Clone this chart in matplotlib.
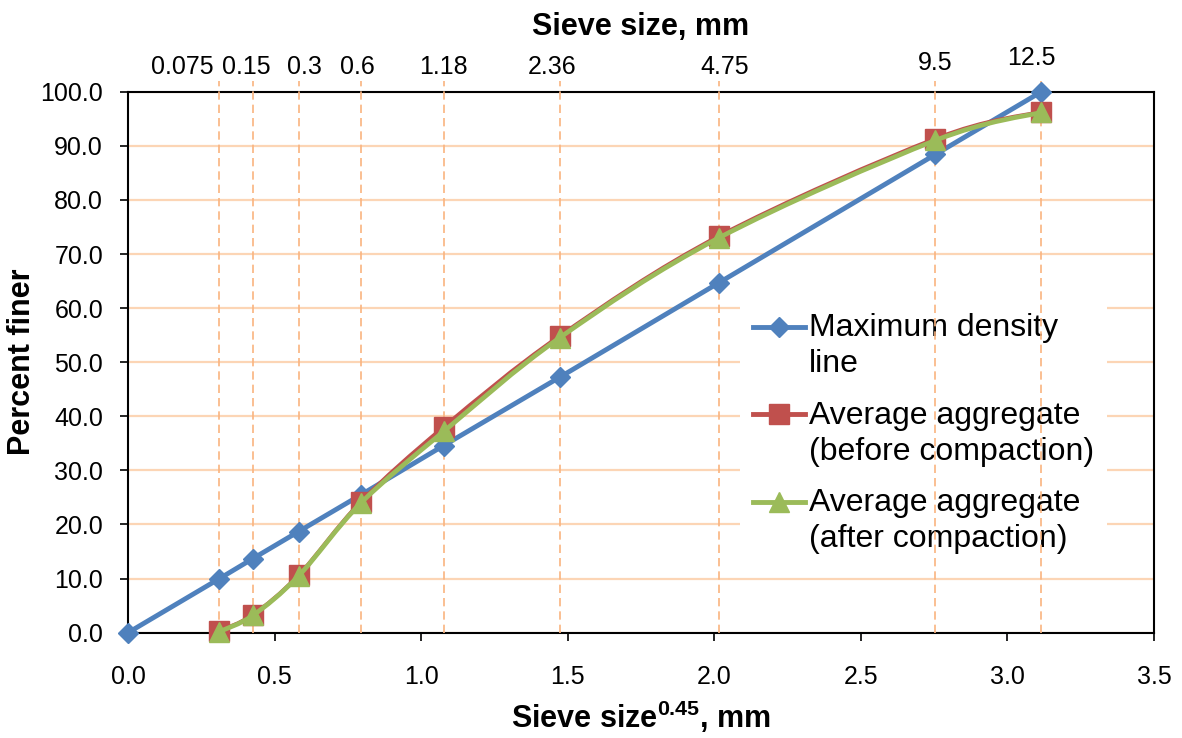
import matplotlib.pyplot as plt
import numpy as np
from matplotlib.legend_handler import HandlerLine2D
from matplotlib.lines import Line2D
from matplotlib.patches import PathPatch
from matplotlib.path import Path

plt.rcParams["font.family"] = ["Liberation Sans", "DejaVu Sans"]
plt.rcParams["mathtext.fontset"] = "custom"
plt.rcParams["mathtext.rm"] = "Liberation Sans"
plt.rcParams["mathtext.bf"] = "Liberation Sans:bold"

# sieve sizes (mm) and their positions on the sieve size^0.45 axis
sieve_labels = ["0.075", "0.15", "0.3", "0.6", "1.18", "2.36", "4.75", "9.5", "12.5"]
sieve_x = [0.312, 0.426, 0.582, 0.795, 1.077, 1.472, 2.016, 2.754, 3.116]

max_density_x = [0.0] + sieve_x
max_density = [0.0, 10.0, 13.7, 18.7, 25.5, 34.6, 47.2, 64.7, 88.4, 100.0]
before_compaction = [0.3, 3.3, 10.6, 24.2, 38.0, 54.8, 73.3, 91.3, 96.3]
after_compaction = [0.2, 3.2, 10.5, 24.0, 37.2, 54.5, 73.0, 91.0, 96.2]

BLUE = "#4F81BD"
RED = "#C0504D"
GREEN = "#9BBB59"
GRID = "#FCD5B5"
VLINE = "#FAB47F"

# label nudges (points) for the sieve size labels above the plot
label_dx = [-26.5, -5, 4, -3, 0, -5.5, 4, 0, -7]
label_dy = [12.7, 12.7, 12.7, 12.7, 12.7, 12.7, 12.7, 15.5, 19]


def smooth_path(x, y):
    """Excel-like smoothed line as a cubic Bezier path through the points."""
    pts = np.column_stack([x, y])
    padded = np.vstack([pts[0], pts, pts[-1]])
    verts = [pts[0]]
    codes = [Path.MOVETO]
    for i in range(len(pts) - 1):
        p0, p1, p2, p3 = padded[i], padded[i + 1], padded[i + 2], padded[i + 3]
        verts += [p1 + (p2 - p0) / 6, p2 - (p3 - p1) / 6, p2]
        codes += [Path.CURVE4] * 3
    return Path(verts, codes)


class FirstLineHandler(HandlerLine2D):
    """Align legend handle with the first line of a two-line label."""

    def create_artists(self, legend, orig_handle, xdescent, ydescent,
                       width, height, fontsize, trans):
        artists = super().create_artists(legend, orig_handle, xdescent, ydescent,
                                         width, height, fontsize, trans)
        for a in artists:
            a.set_ydata(np.asarray(a.get_ydata()) + 0.62 * fontsize)
        return artists


fig = plt.figure(figsize=(11.82, 7.38), dpi=100)
ax = fig.add_axes([0.1083, 0.1427, 0.868, 0.733])

ax.set_xlim(0, 3.5)
ax.set_ylim(0, 100)
ax.set_xticks(np.arange(0, 3.51, 0.5))
ax.set_yticks(np.arange(0, 100.1, 10))
ax.xaxis.set_major_formatter(plt.FormatStrFormatter("%.1f"))
ax.yaxis.set_major_formatter(plt.FormatStrFormatter("%.1f"))
ax.tick_params(axis="x", labelsize=18, length=6, width=1.2, pad=17, direction="out")
ax.tick_params(axis="y", labelsize=18, length=6, width=1.2, pad=12, direction="out")
for spine in ax.spines.values():
    spine.set_linewidth(1.5)
    spine.set_color("black")

ax.set_axisbelow(True)
ax.yaxis.grid(True, color=GRID, linewidth=1.6)

ax.vlines(sieve_x, 0, 102, colors=VLINE, linewidth=1.2,
          linestyles=(0, (5, 3)), zorder=3, clip_on=False)

for x, lab, dx, dy in zip(sieve_x, sieve_labels, label_dx, label_dy):
    ax.annotate(lab, xy=(x, 1.0), xycoords=ax.get_xaxis_transform(),
                xytext=(dx, dy), textcoords="offset points",
                ha="center", va="baseline", fontsize=18)

ax.plot(max_density_x, max_density, color=BLUE, linewidth=3.5,
        marker="D", markersize=10, zorder=4, clip_on=False)

ax.add_patch(PathPatch(smooth_path(sieve_x, before_compaction), facecolor="none",
                       edgecolor=RED, linewidth=3.0, capstyle="round", zorder=5))
ax.plot(sieve_x, before_compaction, linestyle="none", color=RED,
        marker="s", markersize=14, zorder=5, clip_on=False)

ax.add_patch(PathPatch(smooth_path(sieve_x, after_compaction), facecolor="none",
                       edgecolor=GREEN, linewidth=3.4, capstyle="round", zorder=6))
ax.plot(sieve_x, after_compaction, linestyle="none", color=GREEN,
        marker="^", markersize=14, zorder=6, clip_on=False)

handles = [
    Line2D([], [], color=BLUE, linewidth=3.5, marker="D", markersize=10),
    Line2D([], [], color=RED, linewidth=3.5, marker="s", markersize=14),
    Line2D([], [], color=GREEN, linewidth=3.5, marker="^", markersize=14),
]
labels = [
    "Maximum density\nline",
    "Average aggregate\n(before compaction)",
    "Average aggregate\n(after compaction)",
]
leg = ax.legend(handles, labels, loc="upper left", bbox_to_anchor=(0.5965, 0.614),
                fontsize=23, frameon=True, facecolor="white", edgecolor="none",
                framealpha=1, fancybox=False, borderaxespad=0, borderpad=0.4,
                handlelength=1.65, handletextpad=0.12, labelspacing=0.68,
                numpoints=1, handler_map={Line2D: FirstLineHandler()})
for t in leg.get_texts():
    t.set_linespacing(1.25)
leg.set_zorder(2.5)

fig.text(641 / 1182, 1 - 35 / 738, "Sieve size, mm", ha="center", va="baseline",
         fontsize=22, fontweight="bold")
fig.text(641 / 1182, 10 / 738, r"Sieve size$^{\mathbf{0.45}}$, mm", ha="center",
         va="baseline", fontsize=22, fontweight="bold")
fig.text(22 / 1182, 0.5095, "Percent finer", rotation=90, ha="center", va="center",
         fontsize=22, fontweight="bold")

fig.savefig("out.png", dpi=100)
